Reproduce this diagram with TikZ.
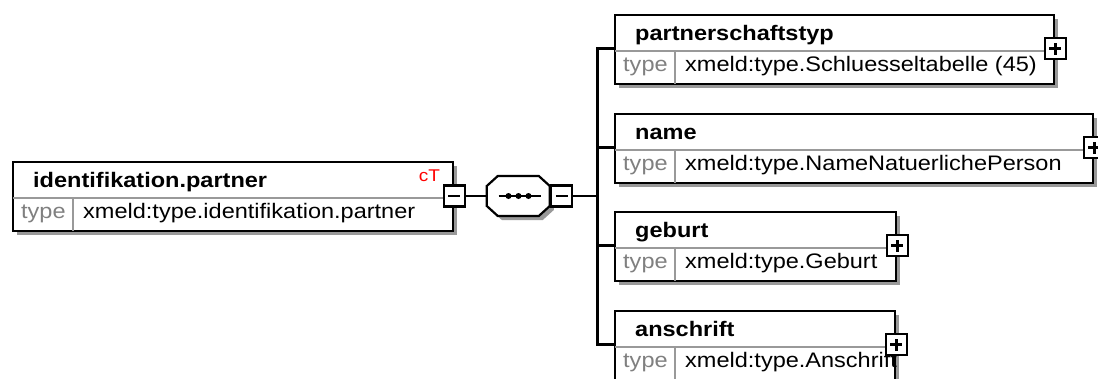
\documentclass[tikz,border=0pt]{standalone}
\usepackage{fontspec}
\setmainfont{Liberation Sans}[FakeStretch=1.12]
\usetikzlibrary{positioning, shadows}

\tikzset{
  elembox/.style={rectangle, draw, line width=2.2pt, fill=white, anchor=north west,
                  minimum height=69pt, inner sep=0pt,
                  drop shadow={shadow xshift=4pt, shadow yshift=-4pt, fill=black!40, opacity=1}},
  rowline/.style={draw=black!40, line width=1.8pt, shorten <=1.1pt, shorten >=1.1pt},
  titletext/.style={anchor=base west, inner sep=0pt, font=\fontsize{21}{24}\selectfont\bfseries},
  typelabel/.style={anchor=base west, inner sep=0pt, text=black!50, font=\fontsize{21}{24}\selectfont},
  typetext/.style={anchor=base west, inner sep=0pt, font=\fontsize{21}{24}\selectfont},
  signbox/.style={rectangle, draw, line width=2.2pt, fill=white, minimum size=21pt, inner sep=0pt},
  minusbox/.style={signbox, path picture={
      \draw[line width=2.6pt] ([xshift=-6pt]path picture bounding box.center)
                           -- ([xshift=6pt]path picture bounding box.center);}},
  plusbox/.style={signbox, path picture={
      \draw[line width=2.6pt] ([xshift=-6pt]path picture bounding box.center)
                           -- ([xshift=6pt]path picture bounding box.center);
      \draw[line width=2.6pt] ([yshift=-6pt]path picture bounding box.center)
                           -- ([yshift=6pt]path picture bounding box.center);}},
  seqbox/.style={rectangle, minimum width=63pt, minimum height=40pt, inner sep=0pt},
  seqshadow/.style={fill=black!40},
  seqline/.style={draw, line width=2.2pt, fill=white},
  conn/.style={line width=2.2pt},
}

% one schema element: name, x, y, width, title, type
\newcommand{\xsdelem}[6]{%
  \node[elembox, minimum width=#4pt] (#1) at (#2,#3) {};
  \draw[rowline] ([yshift=-37pt]#1.north west) -- ([yshift=-37pt]#1.north east);
  \draw[rowline] ([xshift=61pt,yshift=-37pt]#1.north west) -- ([xshift=61pt]#1.south west);
  \node[titletext] (#1-title) at ([xshift=21pt,yshift=-26pt]#1.north west) {#5};
  \node[typelabel] (#1-label) at ([xshift=9pt,yshift=-57pt]#1.north west) {type};
  \node[typetext]  (#1-type)  at ([xshift=71pt,yshift=-57pt]#1.north west) {#6};
}

\begin{document}
\begin{tikzpicture}[x=1pt, y=-1pt]
    \useasboundingbox (0,0) rectangle (1098,378);
    \clip (0,0) rectangle (1098,378);

    \xsdelem{main}{12}{161}{440}{identifikation.partner}{xmeld:type.identifikation.partner}
    \node[anchor=base east, inner sep=0pt, text=red, font=\fontsize{17}{20}\selectfont]
        (main-ct) at ([xshift=-14pt,yshift=-20pt]main.north east) {cT};
    \node[minusbox] (main-sign) at ([yshift=-35pt]main.north east) {};

    % sequence compositor
    \node[seqbox, right=21pt of main-sign] (seq) {};
    \foreach \s/\st in {4/seqshadow, 0/seqline}
        \path[\st] ([xshift=\s pt, yshift=-\s pt]seq.west) ++(0,-10) -- ++(11,-10) -- ++(41,0)
            -- ++(11,10) -- ++(0,20) -- ++(-11,10) -- ++(-41,0) -- ++(-11,-10) -- cycle;
    \draw[line width=2.2pt] ([xshift=-20pt]seq.center) -- ([xshift=22pt]seq.center);
    \foreach \dx in {-10,0,10}
        \fill ([xshift=\dx pt]seq.center) circle (3pt);
    \node[minusbox, anchor=west] (seq-sign) at (seq.east) {};
    \coordinate (bus) at ([xshift=24pt]seq-sign.east);

    \xsdelem{ptyp}{614}{14}{439}{partnerschaftstyp}{xmeld:type.Schluesseltabelle (45)}
    \xsdelem{name}{614}{113}{478}{name}{xmeld:type.NameNatuerlichePerson}
    \xsdelem{geburt}{614}{211}{281}{geburt}{xmeld:type.Geburt}
    \xsdelem{anschrift}{614}{310}{280}{anschrift}{xmeld:type.Anschrift}

    \foreach \e in {ptyp,name,geburt,anschrift}
        \node[plusbox] (\e-sign) at ([yshift=-34.5pt]\e.north east) {};

    \draw[conn] (main-sign) -- (seq);
    \draw[conn] (seq-sign) -- (bus);
    \foreach \e in {ptyp,name,geburt,anschrift}
        \draw[conn] (bus) |- (\e.west |- \e-sign);
\end{tikzpicture}
\end{document}
